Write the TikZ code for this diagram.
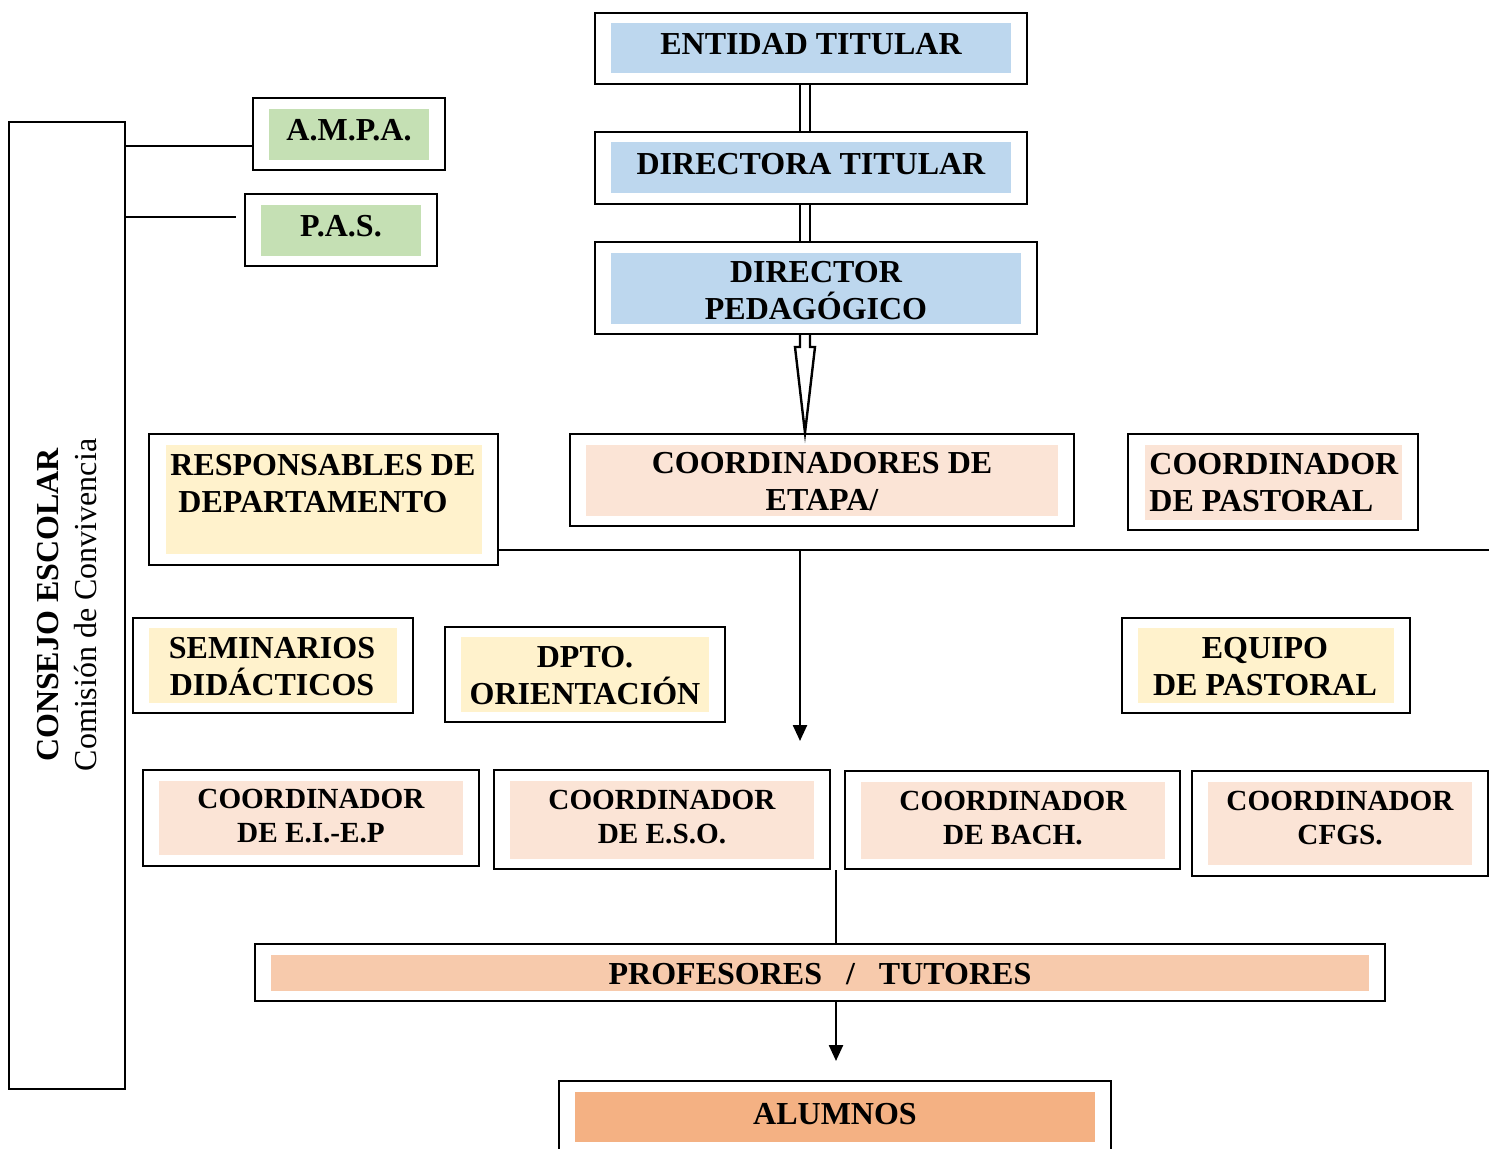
\documentclass[tikz,border=0pt]{standalone}
\usepackage{fontspec}
\setmainfont{Liberation Serif}
\usetikzlibrary{arrows.meta}
\definecolor{cblue}{HTML}{BDD7EE}
\definecolor{cgreen}{HTML}{C5E0B4}
\definecolor{cyellow}{HTML}{FFF2CC}
\definecolor{cpink}{HTML}{FBE4D6}
\definecolor{cprof}{HTML}{F7CAAC}
\definecolor{calum}{HTML}{F4B183}
\newcommand\ob[5]{%
  \node[obox, minimum width={(#4-#2)*0.5pt}, minimum height={(#5-#3)*0.5pt}] (#1) at ({(#2+#4)/2},{(#3+#5)/2}) {};}
\newcommand\ib[5]{\fill[#1] (#2,#3) rectangle (#4,#5);}
\tikzset{
  obox/.style={draw, line width=1.2pt, inner sep=0pt, fill=white},
  txt/.style={font=\fontsize{16}{18.5}\selectfont\bfseries, align=center, inner sep=0pt},
  txs/.style={font=\fontsize{14.6}{17}\selectfont\bfseries, align=center, inner sep=0pt},
  ln/.style={line width=1.2pt},
  arr/.style={line width=1.2pt, -{Triangle[width=7pt,length=8pt]}}
}
\begin{document}
\begin{tikzpicture}[x=0.5pt,y=-0.5pt]
\useasboundingbox (0,0) rectangle (1489,1148);
% Consejo escolar
\ob{cons}{9}{122}{125}{1089}
\node[rotate=90, align=center, inner sep=0pt, font=\fontsize{16}{19}\selectfont] (cons-t) at (67,605)
  {\bfseries CONSEJO ESCOLAR\\Comisión de Convivencia};
% AMPA / PAS
\ob{ampa}{253}{98}{445}{170}\ib{cgreen}{269}{109}{429}{160}
\node[txt] (ampa-t) at (349,130) {A.M.P.A.};
\ob{pas}{245}{194}{437}{266}\ib{cgreen}{261}{205}{421}{256}
\node[txt] (pas-t) at (341,226) {P.A.S.};
% top chain
\ob{ent}{595}{13}{1027}{84}\ib{cblue}{611}{23}{1011}{73}
\node[txt] (ent-t) at (811,44) {ENTIDAD TITULAR};
\ob{dirt}{595}{132}{1027}{204}\ib{cblue}{611}{142}{1011}{193}
\node[txt] (dirt-t) at (811,164) {DIRECTORA TITULAR};
\ob{dped}{595}{242}{1037}{334}\ib{cblue}{611}{253}{1021}{324}
\node[txt] (dped-t) at (816,291) {DIRECTOR\\PEDAGÓGICO};
% row 1
\ob{resp}{149}{434}{498}{565}\ib{cyellow}{166}{445}{482}{554}
\node[txt, align=left, anchor=west] (resp-t) at (170,484) {RESPONSABLES DE\\\hspace{4pt}DEPARTAMENTO};
\ob{cetapa}{570}{434}{1074}{526}\ib{cpink}{586}{445}{1058}{516}
\node[txt] (cetapa-t) at (822,482) {COORDINADORES DE\\ETAPA/};
\ob{cpast}{1128}{434}{1418}{530}\ib{cpink}{1145}{445}{1402}{520}
\node[txt, align=left, anchor=west] (cpast-t) at (1149,483) {COORDINADOR\\DE PASTORAL};
% row 2
\ob{sem}{133}{618}{413}{713}\ib{cyellow}{149}{628}{397}{703}
\node[txt] (sem-t) at (272,667) {SEMINARIOS\\DIDÁCTICOS};
\ob{dpto}{445}{627}{725}{722}\ib{cyellow}{461}{637}{709}{712}
\node[txt] (dpto-t) at (585,676) {DPTO.\\ORIENTACIÓN};
\ob{eqp}{1122}{618}{1410}{713}\ib{cyellow}{1138}{628}{1394}{703}
\node[txt] (eqp-t) at (1265,667) {EQUIPO\\DE PASTORAL};
% row 3
\ob{ciep}{143}{770}{479}{866}\ib{cpink}{159}{781}{463}{855}
\node[txs] (ciep-t) at (311,816) {COORDINADOR\\DE E.I.-E.P};
\ob{ceso}{494}{770}{830}{869}\ib{cpink}{510}{781}{814}{859}
\node[txs] (ceso-t) at (662,817) {COORDINADOR\\DE E.S.O.};
\ob{cbach}{845}{771}{1180}{869}\ib{cpink}{861}{782}{1165}{859}
\node[txs] (cbach-t) at (1013,818) {COORDINADOR\\DE BACH.};
\ob{cfgs}{1192}{771}{1488}{876}\ib{cpink}{1208}{782}{1472}{865}
\node[txs] (cfgs-t) at (1340,818) {COORDINADOR\\CFGS.};
% profesores / alumnos
\ob{prof}{255}{944}{1385}{1001}\ib{cprof}{271}{955}{1369}{991}
\node[txt] (prof-t) at (820,974) {PROFESORES\hspace{0.75em}/\hspace{0.75em}TUTORES};
\ob{alum}{559}{1081}{1111}{1170}\ib{calum}{575}{1092}{1095}{1142}
\node[txt] (alum-t) at (835,1114) {ALUMNOS};
% connectors
\coordinate (xa) at (800,0);
\coordinate (xb) at (810,0);
\draw[ln] (ent.south -| xa) -- (dirt.north -| xa);
\draw[ln] (ent.south -| xb) -- (dirt.north -| xb);
\draw[ln] (dirt.south -| xa) -- (dped.north -| xa);
\draw[ln] (dirt.south -| xb) -- (dped.north -| xb);
\draw[ln, fill=white, line join=miter] (dped.south -| xa) -- (800,347) -- (795,347) -- (cetapa.north -| 805,0) -- (815,347) -- (810,347) -- (dped.south -| xb);
\coordinate (hr) at (1489,550);
\coordinate (hc) at (800,550);
\coordinate (ha) at (800,741);
\draw[ln] (resp.east |- hr) -- (hr);
\draw[arr] (hc) -- (ha);
\coordinate (v1) at (836,870);
\coordinate (v2) at (836,1061);
\draw[ln] (v1) -- (prof.north -| v1);
\draw[arr] (prof.south -| v1) -- (v2);
\coordinate (l1) at (125,146);
\coordinate (l2) at (125,217);
\coordinate (l2e) at (236,217);
\draw[ln] (l1) -- (l1 -| ampa.west);
\draw[ln] (l2) -- (l2e);
\end{tikzpicture}
\end{document}
